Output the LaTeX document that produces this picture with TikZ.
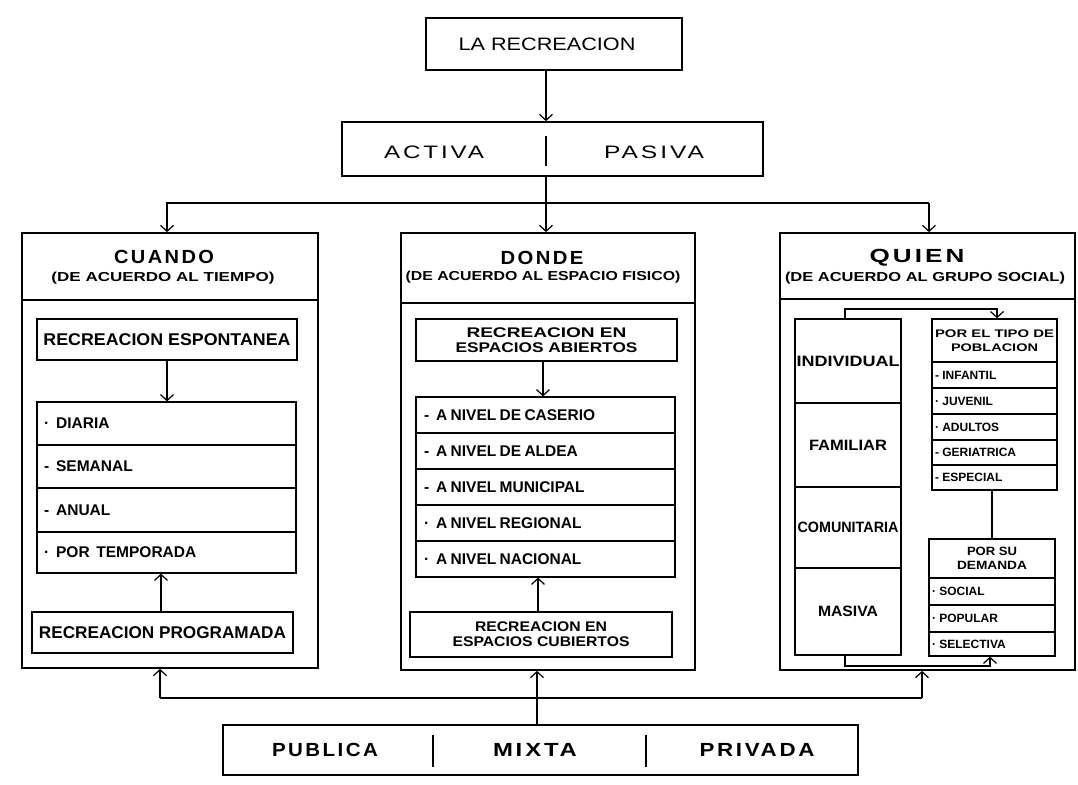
\documentclass[tikz,border=0pt]{standalone}
\usepackage{fontspec}
\setmainfont{Liberation Sans}
\newfontfamily\spc[LetterSpace=12]{Liberation Sans}
\usetikzlibrary{arrows.meta}
\newcommand\hw[2]{\resizebox{#1pt}{\height}{#2}}
\newcommand\rect[7][]{\node[#1, minimum width={#5-#3}, minimum height={#6-#4}] (#2) at ({(#3+#5)/2},{(#4+#6)/2}) {#7};}
\def\rowins{7}
\newcommand\lrow[7][]{\pgfmathsetmacro\rw{#5-#3-2*\rowins}\node[rowbox,#1, inner xsep=\rowins pt, text width=\rw pt, minimum width={#5-#3}, minimum height={#6-#4}] (#2) at ({(#3+#5)/2},{(#4+#6)/2}) {#7};}
\tikzset{
 obox/.style={draw, line width=1.7pt, inner sep=0pt},
 ibox/.style={draw, line width=1.4pt, inner sep=0pt, align=center},
 rowbox/.style={draw, line width=1.2pt, inner ysep=0pt, align=left},
 txt/.style={inner sep=0pt, align=center},
 con/.style={line width=1.2pt},
 arr/.style={con, -{Straight Barb[length=6pt,width=13pt]}},
 divl/.style={line width=1.4pt},
}
\newcommand\fit[1]{\bfseries\fontsize{#1}{#1}\selectfont}
\newcommand\bl[1]{#1\hspace{7pt}}
\begin{document}
\begin{tikzpicture}[x=1pt,y=-1pt]
\fill[white] (0,0) rectangle (1078,784);
\useasboundingbox (0,0) rectangle (1078,784);

% top
\rect[obox]{lr}{426}{18}{682}{70}{}
\node[txt] (tlr) at (547,44) {\hw{177}{\fontsize{18}{20}\selectfont LA RECREACION}};
\rect[obox]{ap}{342}{122}{763}{176}{}
\coordinate (dv) at (546,150);
\draw[divl] (546,136) -- (546,166);
\node[txt] (tact) at (434,152) {\hw{100}{\spc\fontsize{18}{20}\selectfont ACTIVA}};
\node[txt] (tpas) at (654,152) {\hw{100}{\spc\fontsize{18}{20}\selectfont PASIVA}};

% CUANDO
\rect[obox]{cuH}{22}{233}{318}{300}{}
\rect[obox]{cuB}{22}{300}{318}{668}{}
\node[txt] (tcu) at (164,257) {\hw{100}{\spc\fit{19}CUANDO}};
\node[txt] (tcu2) at (163,278) {\hw{223}{\fit{13}(DE ACUERDO AL TIEMPO)}};
\rect[ibox]{esp}{37}{319}{297}{360}{\hw{247}{\fit{17}RECREACION ESPONTANEA}}
\def\rowins{7}
\lrow{c1}{37}{402}{296}{445}{\fit{15.5}\bl{·}DIARIA}
\lrow{c2}{37}{445}{296}{488}{\fit{15.5}\bl{-}SEMANAL}
\lrow{c3}{37}{488}{296}{532}{\fit{15.5}\bl{-}ANUAL}
\lrow{c4}{37}{532}{296}{573}{\fit{15.5}\bl{·}POR\ \ TEMPORADA}
\rect[ibox]{prog}{32}{612}{293}{653}{\hw{247}{\fit{17}RECREACION PROGRAMADA}}
\coordinate (ca1) at (167,380);
\coordinate (ca2) at (161,590);

% DONDE
\rect[obox]{doH}{401}{233}{695}{303}{}
\rect[obox]{doB}{401}{303}{695}{670}{}
\node[txt] (tdo) at (542,258) {\hw{83}{\spc\fit{19}DONDE}};
\node[txt] (tdo2) at (543,277) {\hw{275}{\fit{13}(DE ACUERDO AL ESPACIO FISICO)}};
\rect[ibox]{ab}{416}{319}{677}{361}{\hw{160}{\fit{14}RECREACION EN}\\[3pt]\hw{182}{\fit{14}ESPACIOS ABIERTOS}}
\def\rowins{8}
\lrow{d1}{416}{397}{675}{433}{\fit{15.5}\bl{-}A NIVEL DE CASERIO}
\lrow{d2}{416}{433}{675}{469}{\fit{15.5}\bl{-}A NIVEL DE ALDEA}
\lrow{d3}{416}{469}{675}{505}{\fit{15.5}\bl{-}A NIVEL MUNICIPAL}
\lrow{d4}{416}{505}{675}{541}{\fit{15.5}\bl{·}A NIVEL REGIONAL}
\lrow{d5}{416}{541}{675}{577}{\fit{15.5}\bl{·}A NIVEL NACIONAL}
\rect[ibox]{cub}{410}{612}{672}{657}{\hw{132}{\fit{14}RECREACION EN}\\[3pt]\hw{177}{\fit{14}ESPACIOS CUBIERTOS}}
\coordinate (da1) at (543,380);
\coordinate (da2) at (538,595);

% QUIEN
\rect[obox]{quH}{780}{233}{1075}{299}{}
\rect[obox]{quB}{780}{299}{1075}{670}{}
\node[txt] (tqu) at (917,258) {\hw{95}{\spc\fit{19}QUIEN}};
\node[txt] (tqu2) at (925,278) {\hw{280}{\fit{13}(DE ACUERDO AL GRUPO SOCIAL)}};
\rect[ibox]{g1}{795}{319}{901}{403}{\hw{103}{\fit{15}INDIVIDUAL}}
\rect[ibox]{g2}{795}{403}{901}{487}{\hw{78}{\fit{15}FAMILIAR}}
\rect[ibox]{g3}{795}{487}{901}{568}{\hw{101}{\fit{15}COMUNITARIA}}
\rect[ibox]{g4}{795}{568}{901}{655}{\hw{60}{\fit{15}MASIVA}}
\rect[ibox]{pt}{932}{319}{1057}{362}{\hw{119}{\fit{11}POR EL TIPO DE}\\[2pt]\hw{87}{\fit{11}POBLACION}}
\def\rowins{3}
\lrow{p1}{932}{362}{1057}{388}{\fit{12}- INFANTIL}
\lrow{p2}{932}{388}{1057}{414}{\fit{12}· JUVENIL}
\lrow{p3}{932}{414}{1057}{440}{\fit{12}· ADULTOS}
\lrow{p4}{932}{440}{1057}{465}{\fit{12}- GERIATRICA}
\lrow{p5}{932}{465}{1057}{490}{\fit{12}- ESPECIAL}
\rect[ibox]{ps}{929}{539}{1055}{578}{\hw{50}{\fit{12}POR SU}\\[2pt]\hw{70}{\fit{12}DEMANDA}}
\lrow{s1}{929}{578}{1055}{605}{\fit{12}· SOCIAL}
\lrow{s2}{929}{605}{1055}{632}{\fit{12}· POPULAR}
\lrow{s3}{929}{632}{1055}{656}{\fit{12}· SELECTIVA}
\coordinate (qv) at (992,515);
\coordinate (q1) at (845,309);
\coordinate (q2) at (997,309);
\coordinate (q3) at (845,666);
\coordinate (q4) at (990,666);

% bottom
\rect[obox]{pmp}{223}{725}{858}{775}{}
\draw[divl] (433,735) -- (433,767);
\draw[divl] (646,735) -- (646,767);
\node[txt] (tpu) at (325,750) {\hw{106}{\spc\fit{19}PUBLICA}};
\node[txt] (tmi) at (535,750) {\hw{84}{\spc\fit{19}MIXTA}};
\node[txt] (tpr) at (757,750) {\hw{115}{\spc\fit{19}PRIVADA}};

% distribution coordinates
\coordinate (tl) at (167,203);
\coordinate (tr) at (929,203);
\coordinate (bl) at (160,698);
\coordinate (br) at (922,698);
\coordinate (bm) at (537,698);

% connectors
\draw[arr] (lr.south -| dv) -- (ap.north -| dv);
\draw[arr] (ap.south -| dv) -- (doH.north -| dv);
\draw[arr] (tr) -- (tl) -- (tl |- cuH.north);
\draw[arr] (tr) -- (tr |- quH.north);
\draw[arr] (esp.south -| ca1) -- (c1.north -| ca1);
\draw[arr] (prog.north -| ca2) -- (c4.south -| ca2);
\draw[arr] (ab.south -| da1) -- (d1.north -| da1);
\draw[arr] (cub.north -| da2) -- (d5.south -| da2);
\draw[con] (p5.south -| qv) -- (ps.north -| qv);
\draw[arr] (g1.north -| q1) -- (q1) -- (q2) -- (pt.north -| q2);
\draw[arr] (g4.south -| q3) -- (q3) -- (q4) -- (s3.south -| q4);
\draw[con] (bl) -- (br);
\draw[arr] (bl) -- (bl |- cuB.south);
\draw[arr] (br) -- (br |- quB.south);
\draw[arr] (pmp.north -| bm) -- (doB.south -| bm);
\end{tikzpicture}
\end{document}
